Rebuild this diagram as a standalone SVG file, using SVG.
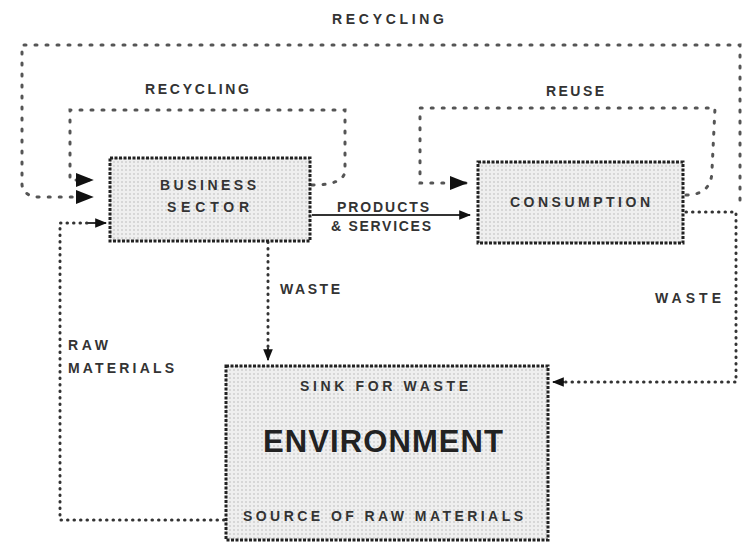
<svg xmlns="http://www.w3.org/2000/svg" width="744" height="550" viewBox="0 0 744 550">
<defs>
<pattern id="dots" width="4" height="4" patternUnits="userSpaceOnUse">
<rect width="4" height="4" fill="#efefef"/>
<circle cx="2" cy="2" r="0.8" fill="#b8b8b8"/>
</pattern>
<marker id="ah" viewBox="0 0 10 10" refX="9" refY="5" markerWidth="6" markerHeight="6" orient="auto" markerUnits="strokeWidth">
<path d="M0,1 L10,5 L0,9 Z" fill="#111"/>
</marker>
<style>
.box{fill:url(#dots);stroke:#222;stroke-width:3;stroke-dasharray:3 1.5}
.conn{fill:none;stroke:#333;stroke-width:3;stroke-linecap:round;stroke-dasharray:0.5 6}
.loop{fill:none;stroke:#555;stroke-width:3;stroke-linecap:round;stroke-dasharray:2 9}
.solid{fill:none;stroke:#333;stroke-width:2}
.lbl{font-family:"Liberation Sans",Arial,sans-serif;font-size:14px;font-weight:bold;fill:#333}
.big{font-family:"Liberation Sans",Arial,sans-serif;font-size:31px;font-weight:bold;fill:#222}
</style>
</defs>
<rect width="744" height="550" fill="#fff"/>
<g id="connectors">
<path class="loop" d="M740,200 L740,45 L22,45 L22,185 Q24,197 40,197 L92,197" marker-end="url(#ah)"/>
<path class="loop" d="M312,185 Q345,185 345,170 L345,110 L70,110 L70,180 L92,180" marker-end="url(#ah)"/>
<path class="loop" d="M686,195 Q712,195 712,170 L715,108 L420,108 L420,183 L466,183" marker-end="url(#ah)"/>
<path class="solid" d="M312,215 L470,215" marker-end="url(#ah)"/>
<path class="conn" d="M268,242 L268,350"/>
<path class="solid" d="M268,348 L268,360" marker-end="url(#ah)"/>
<path class="conn" d="M686,212 L736,212 L736,382 L560,382"/>
<path class="solid" d="M564,382 L553,382" marker-end="url(#ah)"/>
<path class="conn" d="M224,520 L60,520 L60,223 L90,223"/>
<path class="solid" d="M86,223 L106,223" marker-end="url(#ah)"/>
</g>
<g id="business">
<rect class="box" x="110" y="158" width="200" height="83"/>
<text class="lbl" x="208" y="190" text-anchor="middle" textLength="96">BUSINESS</text>
<text class="lbl" x="208" y="212" text-anchor="middle" textLength="82">SECTOR</text>
</g>
<g id="consumption">
<rect class="box" x="478" y="162" width="205" height="81"/>
<text class="lbl" x="580" y="207" text-anchor="middle" textLength="140">CONSUMPTION</text>
</g>
<g id="environment">
<rect class="box" x="226" y="366" width="322" height="174"/>
<text class="lbl" x="384" y="391" text-anchor="middle" textLength="168">SINK FOR WASTE</text>
<text class="big" x="383" y="452" text-anchor="middle" textLength="240">ENVIRONMENT</text>
<text class="lbl" x="383" y="521" text-anchor="middle" textLength="280">SOURCE OF RAW MATERIALS</text>
</g>
<g id="labels">
<text class="lbl" x="388" y="24" text-anchor="middle" textLength="112">RECYCLING</text>
<text class="lbl" x="197" y="94" text-anchor="middle" textLength="104">RECYCLING</text>
<text class="lbl" x="575" y="96" text-anchor="middle" textLength="58">REUSE</text>
<text class="lbl" x="383" y="212" text-anchor="middle" textLength="92">PRODUCTS</text>
<text class="lbl" x="381" y="231" text-anchor="middle" textLength="100">&amp; SERVICES</text>
<text class="lbl" x="280" y="294" textLength="60">WASTE</text>
<text class="lbl" x="655" y="303" textLength="66">WASTE</text>
<text class="lbl" x="68" y="350" textLength="40">RAW</text>
<text class="lbl" x="68" y="373" textLength="106">MATERIALS</text>
</g>
</svg>
